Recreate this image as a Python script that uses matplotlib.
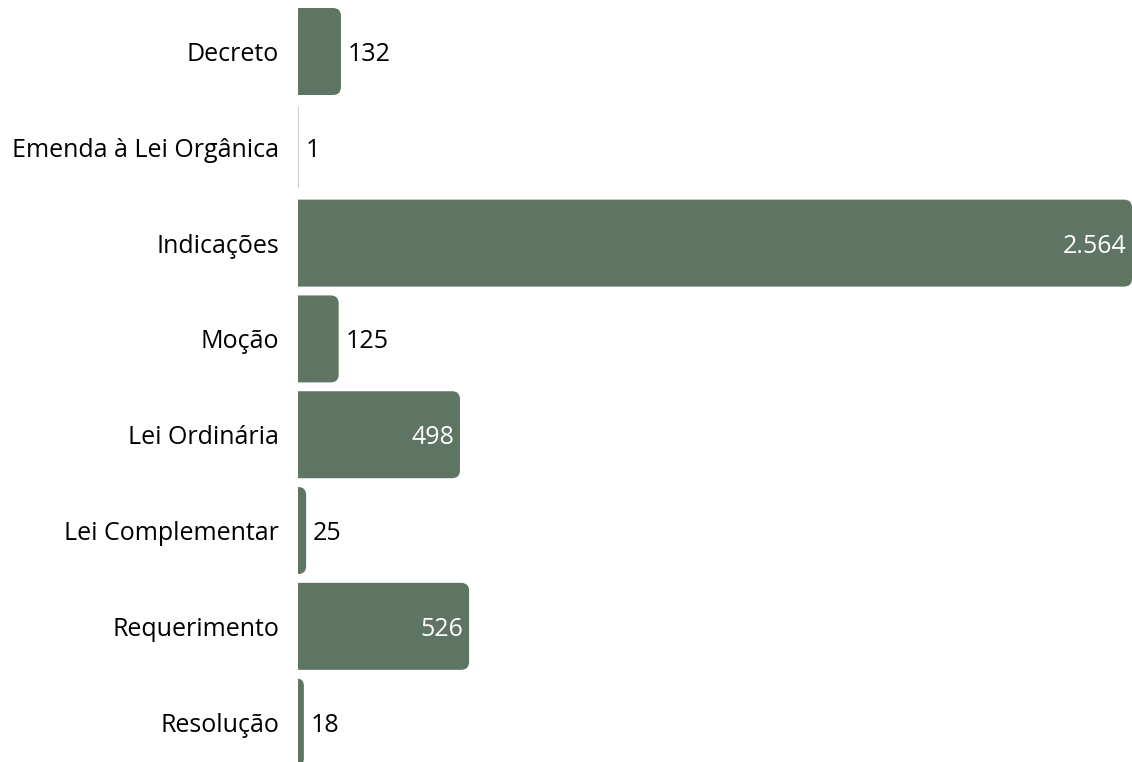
import matplotlib
matplotlib.use('Agg')
import matplotlib.pyplot as plt
from matplotlib.patches import FancyBboxPatch

# Data
categories = ['Decreto', 'Emenda à Lei Orgânica', 'Indicações', 'Moção',
              'Lei Ordinária', 'Lei Complementar', 'Requerimento', 'Resolução']
values = [132, 1, 2564, 125, 498, 25, 526, 18]
labels = ['132', '1', '2.564', '125', '498', '25', '526', '18']

BAR_COLOR = '#5f7563'
plt.rcParams['font.family'] = ['Open Sans', 'DejaVu Sans']


def main():
    fig = plt.figure(figsize=(11.32, 7.62), dpi=100)
    ax = fig.add_axes([298 / 1132, 0, 1 - 298 / 1132, 1])
    n = len(categories)
    ax.set_xlim(0, max(values))
    ax.set_ylim(7.416, -0.5376)

    # pixel -> data unit conversion for the rounded corners
    fig.canvas.draw()
    bbox = ax.get_window_extent()
    xpp = max(values) / bbox.width
    ypp = (7.416 + 0.5376) / bbox.height
    radius_px = 8
    bar_h = 0.908

    for i, v in enumerate(values):
        w_px = v / xpp + radius_px
        r = min(radius_px, w_px / 2)
        x0 = -radius_px * xpp
        patch = FancyBboxPatch((x0, i - bar_h / 2), v - x0, bar_h,
                               boxstyle='round,pad=0,rounding_size=%f' % (r * xpp),
                               mutation_aspect=ypp / xpp,
                               facecolor=BAR_COLOR, edgecolor='none')
        ax.add_patch(patch)
        if v / xpp > 120:
            ax.text(v - 6 * xpp, i, labels[i], ha='right', va='center_baseline',
                    color='white', fontsize=18)
        else:
            ax.text(v + 7 * xpp, i, labels[i], ha='left', va='center_baseline',
                    color='black', fontsize=18)

    ax.set_yticks(range(n))
    ax.set_yticklabels(categories, fontsize=18)
    ax.tick_params(axis='y', length=0, pad=13.7)
    ax.set_xticks([])
    for s in ax.spines.values():
        s.set_visible(False)

    fig.savefig('out.png', dpi=100)


if __name__ == '__main__':
    main()
